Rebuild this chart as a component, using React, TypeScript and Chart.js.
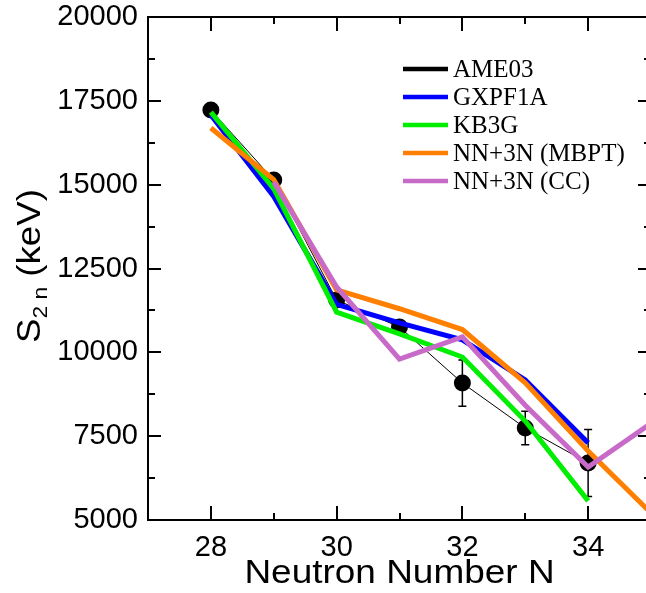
import React, { useEffect, useRef } from "react";
import { Chart, registerables } from "chart.js";

Chart.register(...registerables);

// ---- data ----
const ameN = [28, 29, 30, 31, 32, 33, 34];
const ame03 = [17225, 15140, 11560, 10755, 9085, 7744, 6700];
const ame03Err = [0, 0, 0, 0, 690, 500, 1000];

const gxpf1aN = [28, 29, 30, 31, 32, 33, 34];
const gxpf1a = [17075, 14650, 11430, 10880, 10370, 9175, 7300];

const kb3gN = [28, 29, 30, 31, 32, 33, 34];
const kb3g = [17165, 14880, 11200, 10550, 9860, 7950, 5570];

const mbptN = [28, 29, 30, 31, 32, 33, 34, 35];
const mbpt = [16690, 15150, 11860, 11300, 10680, 9090, 7060, 5210];

const ccN = [29, 30, 31, 32, 33, 34, 35];
const cc = [15080, 11950, 9800, 10460, 8420, 6580, 7880];

const xTicks = [28, 30, 32, 34];
const yTicks = [5000, 7500, 10000, 12500, 15000, 17500, 20000];

const legendLabels = ["AME03", "GXPF1A", "KB3G", "NN+3N (MBPT)", "NN+3N (CC)"];
const legendColors = ["#000000", "#0000ff", "#00ee00", "#ff7f00", "#c86ac8"];

const toPts = (xs: number[], ys: number[]) => xs.map((x, i) => ({ x, y: ys[i] }));

const SANS = "'Liberation Sans', Arial, sans-serif";
const SERIF = "'Liberation Serif', 'Times New Roman', serif";

const framePlugin = {
  id: "frame",
  beforeDatasetsDraw(chart: any) {
    const ctx = chart.ctx;
    const xs = chart.scales.x;
    const ys = chart.scales.y;
    ctx.save();
    ctx.strokeStyle = "#000";
    ctx.lineWidth = 1.5;
    ameN.forEach((n, i) => {
      const e = ame03Err[i];
      if (!e) return;
      const px = xs.getPixelForValue(n);
      const top = ys.getPixelForValue(ame03[i] + e);
      const bot = ys.getPixelForValue(ame03[i] - e);
      ctx.beginPath();
      ctx.moveTo(px, top);
      ctx.lineTo(px, bot);
      ctx.moveTo(px - 4, top);
      ctx.lineTo(px + 4, top);
      ctx.moveTo(px - 4, bot);
      ctx.lineTo(px + 4, bot);
      ctx.stroke();
    });
    ctx.restore();
  },
  afterDraw(chart: any) {
    const ctx = chart.ctx;
    const a = chart.chartArea;
    const xs = chart.scales.x;
    const ys = chart.scales.y;
    ctx.save();
    ctx.strokeStyle = "#000";
    ctx.lineWidth = 2;
    ctx.strokeRect(a.left, a.top, a.right - a.left, a.bottom - a.top);
    ctx.beginPath();
    for (let n = 28; n <= 34; n++) {
      const px = Math.round(xs.getPixelForValue(n));
      const len = n % 2 === 0 ? 14 : 7;
      ctx.moveTo(px, a.bottom);
      ctx.lineTo(px, a.bottom - len);
      ctx.moveTo(px, a.top);
      ctx.lineTo(px, a.top + len);
    }
    for (let v = 6250; v < 20000; v += 1250) {
      const py = Math.round(ys.getPixelForValue(v));
      const len = v % 2500 === 0 ? 13 : 7;
      ctx.moveTo(a.left, py);
      ctx.lineTo(a.left + len, py);
      ctx.moveTo(a.right, py);
      ctx.lineTo(a.right - len, py);
    }
    ctx.stroke();

    // legend
    ctx.font = `25px ${SERIF}`;
    ctx.textBaseline = "middle";
    ctx.textAlign = "left";
    legendLabels.forEach((lab, i) => {
      const y = 69 + i * 28;
      ctx.strokeStyle = legendColors[i];
      ctx.lineWidth = 4.5;
      ctx.beginPath();
      ctx.moveTo(403, y);
      ctx.lineTo(448, y);
      ctx.stroke();
      ctx.fillStyle = "#000";
      ctx.fillText(lab, 453, y + 1);
    });

    // x title
    ctx.fillStyle = "#000";
    ctx.save();
    ctx.translate((a.left + a.right) / 2, 583);
    ctx.scale(1.12, 1);
    ctx.font = `33px ${SANS}`;
    ctx.textAlign = "center";
    ctx.textBaseline = "alphabetic";
    ctx.fillText("Neutron Number N", 0, 0);
    ctx.restore();

    // y title with subscript
    ctx.save();
    ctx.translate(40, 266);
    ctx.rotate(-Math.PI / 2);
    ctx.scale(1.08, 1);
    const big = `34px ${SANS}`;
    const small = `21px ${SANS}`;
    ctx.font = big;
    const wS = ctx.measureText("S").width;
    const wRest = ctx.measureText(" (keV)").width;
    ctx.font = small;
    const wSub = ctx.measureText("2 n").width;
    const total = wS + wSub + wRest;
    let x0 = -total / 2;
    ctx.textAlign = "left";
    ctx.textBaseline = "alphabetic";
    ctx.font = big;
    ctx.fillText("S", x0, 0);
    x0 += wS;
    ctx.font = small;
    ctx.fillText("2 n", x0, 7);
    x0 += wSub;
    ctx.font = big;
    ctx.fillText(" (keV)", x0, 0);
    ctx.restore();
    ctx.restore();
  },
};

export default function App() {
  const ref = useRef<HTMLCanvasElement | null>(null);
  useEffect(() => {
    if (!ref.current) return;
    const lineDs = (label: string, data: any, color: string, order: number) => ({
      label,
      data,
      borderColor: color,
      backgroundColor: color,
      borderWidth: 5,
      pointRadius: 0,
      tension: 0,
      fill: false,
      order,
      borderJoinStyle: "miter" as const,
    });
    const zeroPad = (s: any) => {
      s.paddingTop = 0;
      s.paddingBottom = 0;
      s.paddingLeft = 0;
      s.paddingRight = 0;
    };
    const chart = new Chart(ref.current, {
      type: "line",
      data: {
        datasets: [
          {
            label: "AME03",
            data: toPts(ameN, ame03),
            borderColor: "#000",
            backgroundColor: "#000",
            borderWidth: 1,
            pointRadius: 8.5,
            pointBorderWidth: 0,
            pointBackgroundColor: "#000",
            fill: false,
            order: 5,
          },
          lineDs("GXPF1A", toPts(gxpf1aN, gxpf1a), legendColors[1], 4),
          lineDs("KB3G", toPts(kb3gN, kb3g), legendColors[2], 3),
          lineDs("NN+3N (MBPT)", toPts(mbptN, mbpt), legendColors[3], 2),
          lineDs("NN+3N (CC)", toPts(ccN, cc), legendColors[4], 1),
        ],
      },
      options: {
        responsive: false,
        animation: false,
        layout: { padding: { top: 17, right: 9, left: 0, bottom: 0 } },
        plugins: {
          legend: { display: false },
          tooltip: { enabled: false },
          title: { display: false },
        },
        scales: {
          x: {
            type: "linear",
            min: 27,
            max: 35,
            grid: { display: false, drawTicks: false },
            border: { display: false },
            afterBuildTicks: (s: any) => {
              s.ticks = xTicks.map((v) => ({ value: v }));
            },
            afterFit: (s: any) => {
              s.height = 73;
              zeroPad(s);
            },
            ticks: {
              padding: 11,
              color: "#000",
              font: { family: SANS, size: 29 },
              maxRotation: 0,
              autoSkip: false,
            },
          },
          y: {
            type: "linear",
            min: 5000,
            max: 20000,
            grid: { display: false, drawTicks: false },
            border: { display: false },
            afterBuildTicks: (s: any) => {
              s.ticks = yTicks.map((v) => ({ value: v }));
            },
            afterFit: (s: any) => {
              s.width = 148;
              zeroPad(s);
            },
            ticks: {
              padding: 10,
              color: "#000",
              font: { family: SANS, size: 29 },
              autoSkip: false,
              callback: (v: any) => String(v),
            },
          },
        },
      },
      plugins: [framePlugin],
    });
    return () => chart.destroy();
  }, []);
  return (
    <div
      style={{
        position: "fixed",
        left: 0,
        top: 0,
        width: 646,
        height: 593,
        overflow: "hidden",
        background: "#fff",
      }}
    >
      <canvas ref={ref} width={660} height={593} style={{ width: 660, height: 593, display: "block" }} />
    </div>
  );
}
